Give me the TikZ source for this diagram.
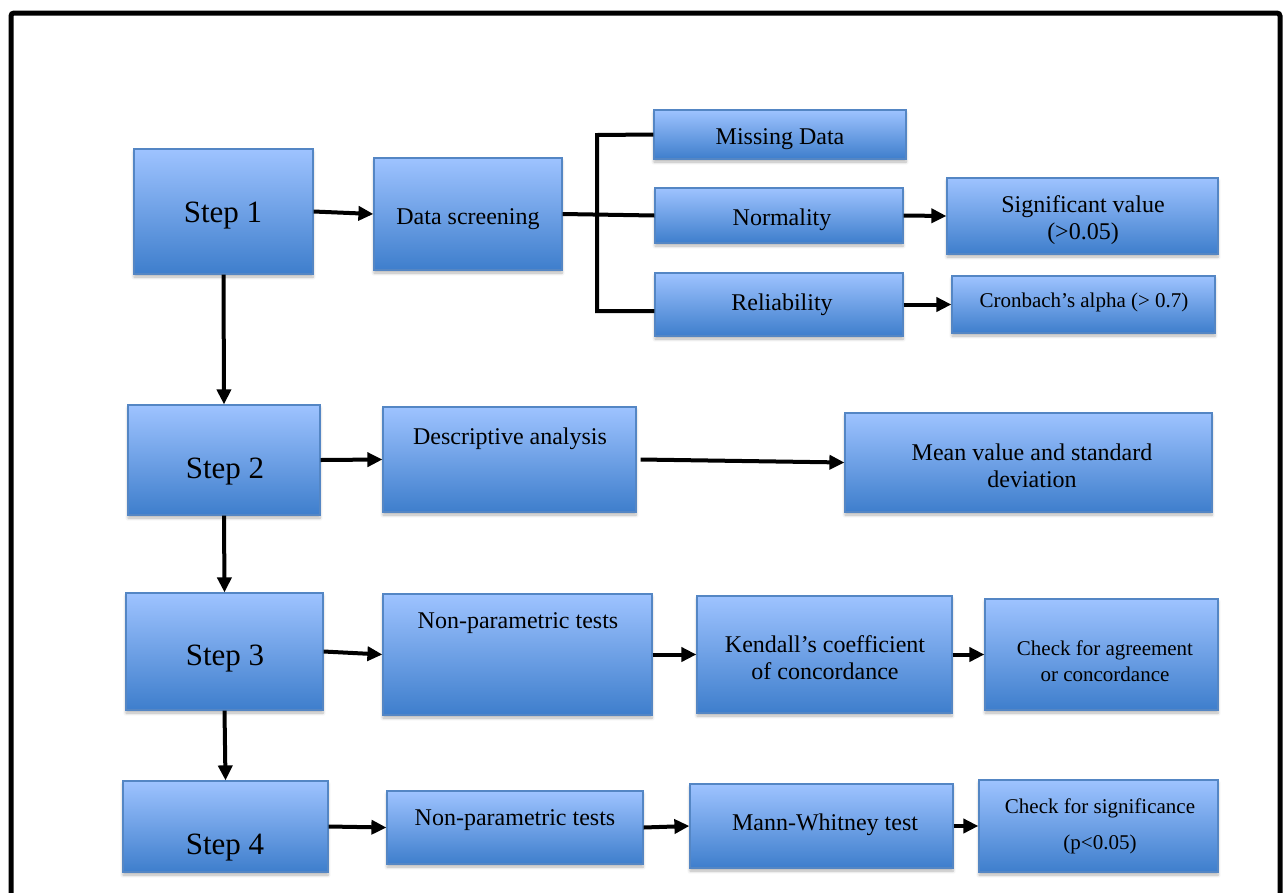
\documentclass[tikz,border=0pt]{standalone}
\usepackage{fontspec}
\setmainfont{Liberation Serif}
\usetikzlibrary{arrows.meta,shadows.blur}

\definecolor{boxtop}{RGB}{158,195,255}
\definecolor{boxbot}{RGB}{62,126,204}
\definecolor{boxline}{RGB}{84,134,196}

\tikzset{
  box/.style={rectangle, draw=boxline, line width=1.2pt, inner sep=0pt,
    top color=boxtop, bottom color=boxbot,
    blur shadow={shadow xshift=0pt, shadow yshift=-3pt, shadow blur steps=6,
      shadow blur radius=3pt, shadow opacity=30}},
  lbl/.style={inner sep=0pt, align=center, text=black, yshift=-3pt},
  stepfont/.style={lbl, font=\fontsize{31}{34}\selectfont},
  midfont/.style={lbl, font=\fontsize{24}{27}\selectfont},
  smallfont/.style={lbl, font=\fontsize{21}{26}\selectfont},
  arr/.style={line width=4pt, -{Triangle[length=15pt,width=14pt]}},
  link/.style={line width=4pt},
}

\begin{document}
\begin{tikzpicture}[x=1pt,y=-1pt]
\useasboundingbox (0,0) rectangle (1285,892);

% outer frame (open at the bottom)
\draw[line width=5pt, rounded corners=3pt] (11,900) -- (11,13) -- (1280,13) -- (1280,900);

% ---- boxes ----
\node[box, minimum width=179pt, minimum height=125pt] (s1) at (223.5,211.5) {};
\node[box, minimum width=188pt, minimum height=112pt] (ds) at (468,214) {};
\node[box, minimum width=252pt, minimum height=49pt]  (md) at (780,134.5) {};
\node[box, minimum width=248pt, minimum height=55pt]  (nm) at (779,215.5) {};
\node[box, minimum width=248pt, minimum height=63pt]  (rl) at (779,304.5) {};
\node[box, minimum width=271pt, minimum height=76pt]  (sv) at (1082.5,216) {};
\node[box, minimum width=263pt, minimum height=57pt]  (cr) at (1083.5,304.5) {};

\node[box, minimum width=192pt, minimum height=110pt] (s2) at (224,460) {};
\node[box, minimum width=253pt, minimum height=105pt] (da) at (509.5,459.5) {};
\node[box, minimum width=367pt, minimum height=99pt]  (mv) at (1028.5,462.5) {};

\node[box, minimum width=197pt, minimum height=117pt] (s3) at (224.5,651.5) {};
\node[box, minimum width=269pt, minimum height=121pt] (np3) at (517.5,654.5) {};
\node[box, minimum width=255pt, minimum height=117pt] (kc) at (824.5,654.5) {};
\node[box, minimum width=233pt, minimum height=111pt] (ca) at (1101.5,654.5) {};

\node[box, minimum width=205pt, minimum height=91pt]  (s4) at (225.5,826.5) {};
\node[box, minimum width=256pt, minimum height=73pt]  (np4) at (515,827.5) {};
\node[box, minimum width=263pt, minimum height=84pt]  (mw) at (821.5,826) {};
\node[box, minimum width=239pt, minimum height=92pt]  (cs) at (1098.5,826) {};

% ---- texts ----
\node[stepfont] (s1t) at (223,213) {Step 1};
\node[midfont] (dst) at (468,216) {Data screening};
\node[midfont] (mdt) at (780,136) {Missing Data};
\node[midfont] (nmt) at (782,217) {Normality};
\node[midfont] (rlt) at (782,302) {Reliability};
\node[midfont] (svt) at (1083,217) {Significant value\\(>0.05)};
\node[smallfont] (crt) at (1084,299) {Cronbach’s alpha (> 0.7)};

\node[stepfont] (s2t) at (225,469) {Step 2};
\node[midfont] (dat) at (510,436) {Descriptive analysis};
\node[midfont] (mvt) at (1032,463) {Mean value and standard\\deviation};

\node[stepfont] (s3t) at (225,656) {Step 3};
\node[midfont] (np3t) at (518,620) {Non-parametric tests};
\node[midfont] (kct) at (825,655) {Kendall’s coefficient\\of concordance};
\node[smallfont] (cat) at (1105,658) {Check for agreement\\or concordance};

\node[stepfont] (s4t) at (225,845) {Step 4};
\node[midfont] (np4t) at (515,817) {Non-parametric tests};
\node[midfont] (mwt) at (825,822) {Mann-Whitney test};
\node[smallfont, font=\fontsize{21}{36}\selectfont] (cst) at (1100,823) {Check for significance\\(p<0.05)};

% ---- connectors ----
\draw[arr] (s1.east) -- (ds.west);
\draw[link] (ds.east) -- (nm.west);
\coordinate (bt) at (597,135);
\coordinate (bb) at (597,311);
\draw[link] (md.west) -- (bt) -- (bb) -- (rl.west |- bb);
\draw[arr] (nm.east) -- (sv.west);
\draw[arr] (rl.east) -- (cr.west);

\draw[arr] (s1.south) -- (s2.north);
\draw[arr] (s2.east) -- (da.west);
\draw[arr] ([xshift=4pt]da.east) -- (mv.west);

\draw[arr] (s2.south) -- (s3.north);
\draw[arr] (s3.east) -- (np3.west);
\draw[arr] (np3.east) -- (kc.west);
\draw[arr] (kc.east) -- (ca.west);

\draw[arr] (s3.south) -- (s4.north);
\draw[arr] (s4.east) -- (np4.west);
\draw[arr] (np4.east) -- (mw.west);
\draw[arr] (mw.east) -- (cs.west);
\end{tikzpicture}
\end{document}
